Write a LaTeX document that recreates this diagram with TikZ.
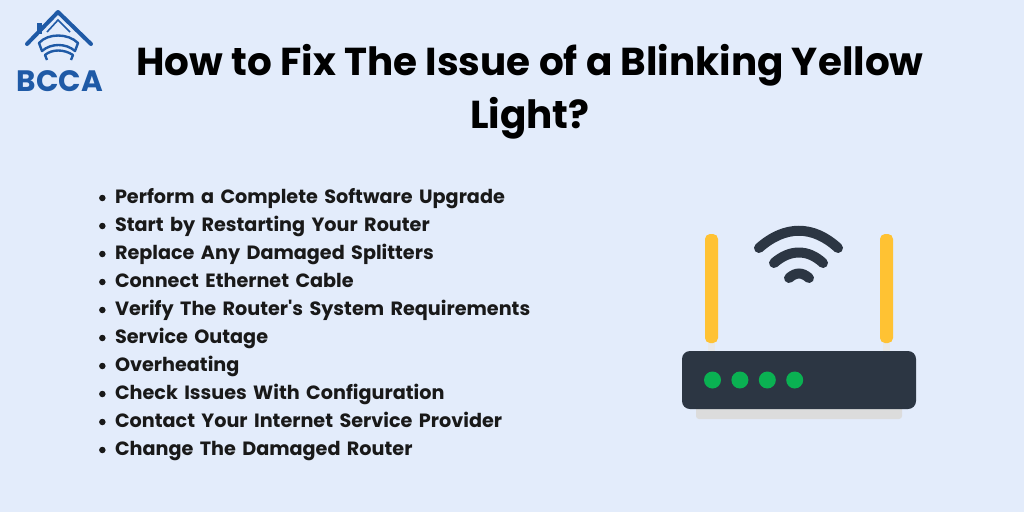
\documentclass[tikz,border=0pt]{standalone}
\usepackage{fontspec}
\setmainfont{Poppins}
\usetikzlibrary{arrows,positioning}
\definecolor{pagebg}{HTML}{E3ECFB}
\definecolor{logoblue}{HTML}{1F5AA6}
\definecolor{darkbox}{HTML}{2C3643}
\definecolor{antyellow}{HTML}{FFC233}
\definecolor{ledgreen}{HTML}{0AB152}
\definecolor{shadowgray}{HTML}{DCDCDC}
\definecolor{stubgray}{HTML}{E8E8E8}
\tikzset{
  listitem/.style={font=\fontsize{19.2}{21}\selectfont\bfseries,text=black!90,anchor=center,text width=460pt,align=left,inner sep=0pt,text height=14pt,text depth=4pt,
    label={[circle,fill=black!90,inner sep=0pt,minimum size=6.5pt,label distance=9pt]left:{}}},
  antenna/.style={fill=antyellow,rounded corners=5pt},
  led/.style={circle,fill=ledgreen,inner sep=0pt,minimum size=17pt},
  wave/.style={draw=darkbox,line width=10pt,line cap=round}
}
\begin{document}
\begin{tikzpicture}[x=1pt,y=-1pt,node distance=28pt]
\useasboundingbox[fill=pagebg] (0,0) rectangle (1024,512);
% logo
\draw[logoblue,line width=4pt,line cap=round,line join=round] (27,44) -- (58,12) -- (91,44);
\fill[logoblue] (37,23) rectangle (42,34);
\draw[logoblue,line width=1.6pt] (47,32) -- (58,20) -- (70,32);
\draw[logoblue,line width=2.4pt,line join=round] (39,43) .. controls (48,33) and (68,33) .. (78,43) -- (75,51) .. controls (66,43) and (51,43) .. (42,51) -- cycle;
\draw[logoblue,line width=2.4pt,line join=round] (47,60) -- (45,55) .. controls (52,49) and (64,49) .. (73,55) -- (71,60);
\node[font=\fontsize{29.5}{30}\selectfont\bfseries,text=logoblue,anchor=base,inner sep=0pt] (logotext) at (60,91) {BCCA};
% title
\node[font=\fontsize{38.9}{53}\selectfont\bfseries,text=black,align=center,anchor=center,inner sep=0pt] (title) at (530,92) {How to Fix The Issue of a Blinking Yellow\\Light?};
% list
\node[listitem] (i1) at (345,198) {Perform a Complete Software Upgrade};
\node[listitem] [below of=i1] (i2) {Start by Restarting Your Router};
\node[listitem] [below of=i2] (i3) {Replace Any Damaged Splitters};
\node[listitem] [below of=i3] (i4) {Connect Ethernet Cable};
\node[listitem] [below of=i4] (i5) {Verify The Router\textquotesingle s System Requirements};
\node[listitem] [below of=i5] (i6) {Service Outage};
\node[listitem] [below of=i6] (i7) {Overheating};
\node[listitem] [below of=i7] (i8) {Check Issues With Configuration};
\node[listitem] [below of=i8] (i9) {Contact Your Internet Service Provider};
\node[listitem] [below of=i9] (i10) {Change The Damaged Router};
% router
\fill[stubgray] (708,340) rectangle (715,352);
\fill[stubgray] (883,340) rectangle (890,352);
\fill[antenna] (705,234) rectangle (718,343);
\fill[antenna] (880,234) rectangle (893,343);
\fill[shadowgray,rounded corners=3pt] (696,400) rectangle (902,419);
\fill[darkbox,rounded corners=8pt] (682,351) rectangle (916,409);
\node[led] (led1) at (712.5,380) {};
\node[led,right=10pt of led1] (led2) {};
\node[led,right=10pt of led2] (led3) {};
\node[led,right=10pt of led3] (led4) {};
\draw[wave] (759,248) .. controls (785,225) and (813,225) .. (838,248);
\draw[wave] (774,263) .. controls (790,249) and (808,249) .. (823,263);
\draw[wave] (789,278) .. controls (796,272) and (802,272) .. (809,278);
\end{tikzpicture}
\end{document}
